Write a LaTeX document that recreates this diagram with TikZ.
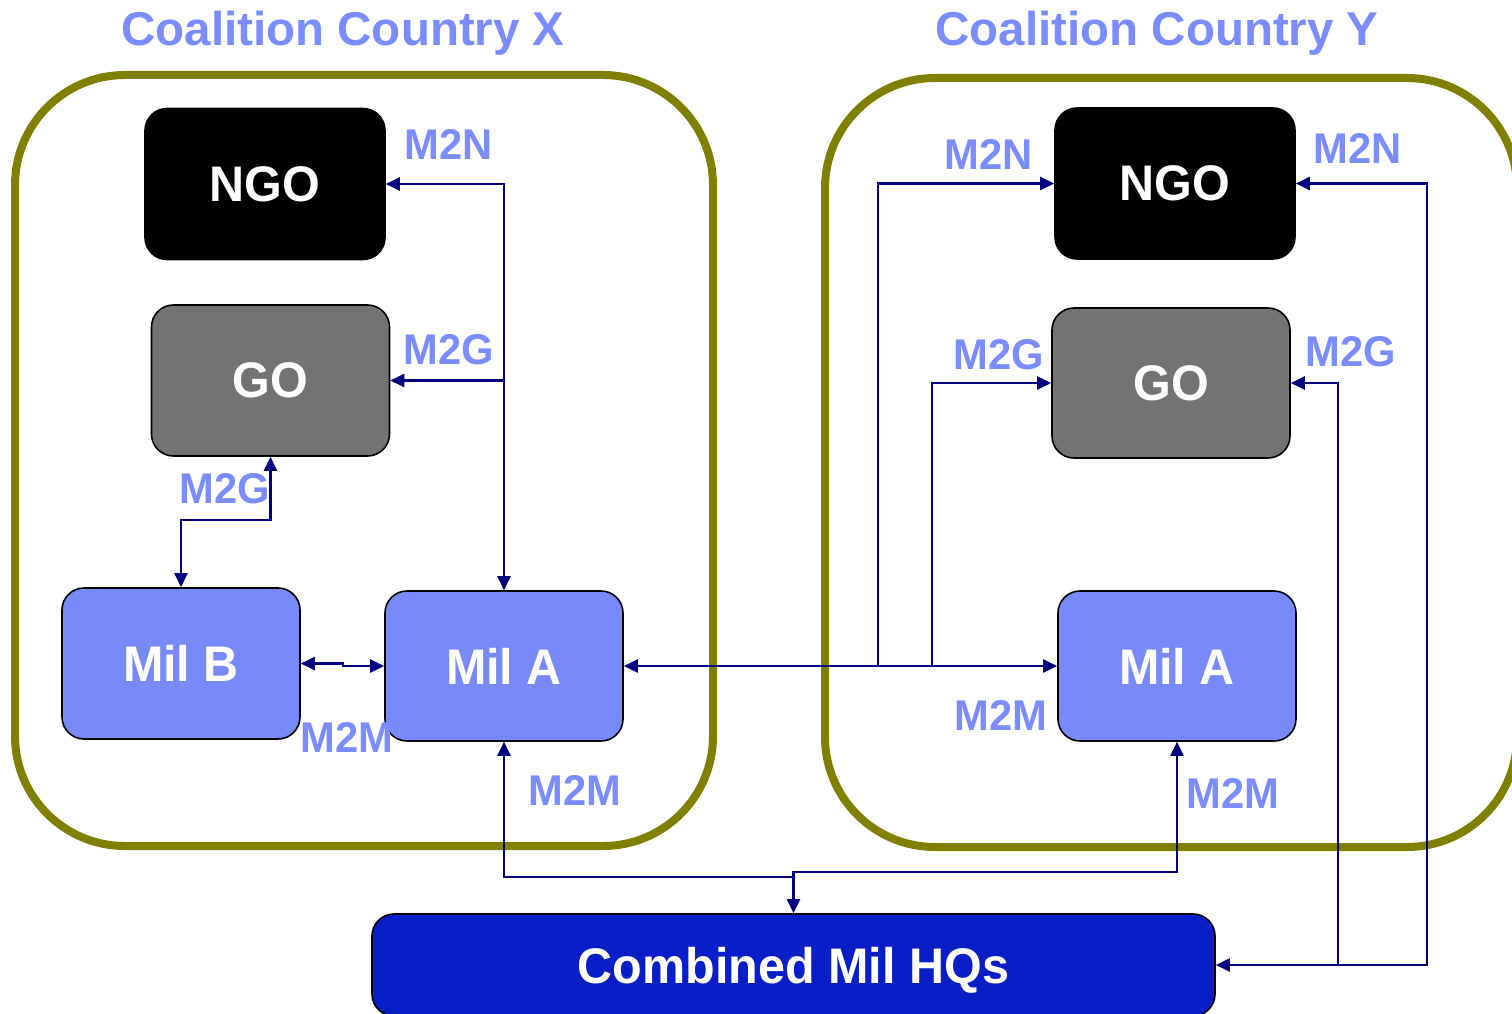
\documentclass[tikz,border=0pt]{standalone}
\usepackage{fontspec}
\setmainfont{Liberation Sans}
\newfontfamily\narrowf{Liberation Sans}[FakeStretch=0.97]
\usetikzlibrary{arrows.meta}
\definecolor{olivec}{HTML}{808000}
\definecolor{lblc}{HTML}{7B8CFF}
\definecolor{milc}{HTML}{7889FA}
\definecolor{goc}{HTML}{737373}
\definecolor{navyc}{HTML}{000080}
\definecolor{hqc}{HTML}{0A1EC8}
\tikzset{
  container/.style={draw=olivec, line width=8pt, rounded corners=110pt},
  boxbase/.style={rounded corners=22pt, line width=1.6pt, minimum width=238pt, minimum height=151pt,
    text=white, font=\narrowf\bfseries\fontsize{50}{50}\selectfont, inner sep=0pt},
  ngobox/.style={boxbase, fill=black, draw=black},
  gobox/.style={boxbase, fill=goc, draw=black},
  milbox/.style={boxbase, fill=milc, draw=black},
  hqbox/.style={boxbase, fill=hqc, draw=black, minimum width=843pt, minimum height=102pt, text depth=0pt},
  conn/.style={draw=navyc, line width=2.4pt, arrows={-}},
  tip/.tip={Triangle[length=14pt,width=13pt]},
  lbl/.style={text=lblc, font=\narrowf\bfseries\fontsize{43}{43}\selectfont, anchor=base, inner sep=0pt},
  ttl/.style={text=lblc, font=\bfseries\fontsize{47.5}{47.5}\selectfont, anchor=base, inner sep=0pt}
}
\begin{document}
\begin{tikzpicture}[x=1pt,y=-1pt]
\useasboundingbox (0,0) rectangle (1512,1014);
\begin{scope}
\clip (0,0) rectangle (1512,1014);
% containers
\draw[container] (15,75) rectangle (713,846);
\draw[container] (825,78) rectangle (1517,847);
% boxes
\node[ngobox, minimum width=240pt] (ngo1) at (265,184) {NGO};
\node[gobox] (go1) at (270.5,380.5) {GO};
\node[milbox] (milB) at (181,663.5) {Mil B};
\node[milbox, minimum height=150pt] (milA1) at (504,666) {Mil A};
\node[ngobox, minimum width=240pt] (ngo2) at (1175,183.5) {NGO};
\node[gobox, minimum height=150pt] (go2) at (1171,383) {GO};
\node[milbox, minimum height=150pt] (milA2) at (1177,666) {Mil A};
\node[hqbox] (hq) at (793.5,965) {Combined Mil HQs};
% junction coordinates
\coordinate (b1) at (878,666);
\coordinate (b2) at (932,666);
\coordinate (m1) at (793.5,877);
\coordinate (m2) at (793.5,872);
\coordinate (r1) at (1427,965);
\coordinate (r2) at (1338,965);
% connectors left
\draw[conn, {tip}-{tip}] (milA1.north) |- (ngo1.east);
\draw[conn, -{tip}] (milA1.north |- go1.east) -- (go1.east);
\draw[conn, {tip}-{tip}] (milB.north) -- ++(0,-67) -| (go1.south);
\draw[conn, {tip}-{tip}] (milB.east) -- ++(42,0) |- (milA1.west);
% connectors between Mil A
\draw[conn, {tip}-{tip}] (milA1.east) -- (milA2.west);
\draw[conn, -{tip}] (b1) |- (ngo2.west);
\draw[conn, -{tip}] (b2) |- (go2.west);
% connectors to HQ
\draw[conn, {tip}-{tip}] (milA1.south) |- (m1) -- (hq.north);
\draw[conn, {tip}-] (milA2.south) |- (m2) -- (m1);
\draw[conn, {tip}-{tip}] (hq.east) -- (r1) |- (ngo2.east);
\draw[conn, -{tip}] (r2) |- (go2.east);
% titles
\node[ttl] (tx) at (343,46) {Coalition Country X};
\node[ttl] (ty) at (1157,46) {Coalition Country Y};
% labels
\node[lbl] (l1) at (449,159) {M2N};
\node[lbl] (l2) at (449,364) {M2G};
\node[lbl] (l3) at (225,503) {M2G};
\node[lbl] (l4) at (347,752) {M2M};
\node[lbl] (l5) at (575,805) {M2M};
\node[lbl] (l6) at (989,169) {M2N};
\node[lbl] (l7) at (1358,163) {M2N};
\node[lbl] (l8) at (998.5,369) {M2G};
\node[lbl] (l9) at (1351,366) {M2G};
\node[lbl] (l10) at (1001,730) {M2M};
\node[lbl] (l11) at (1233,808) {M2M};
\end{scope}
\end{tikzpicture}
\end{document}
